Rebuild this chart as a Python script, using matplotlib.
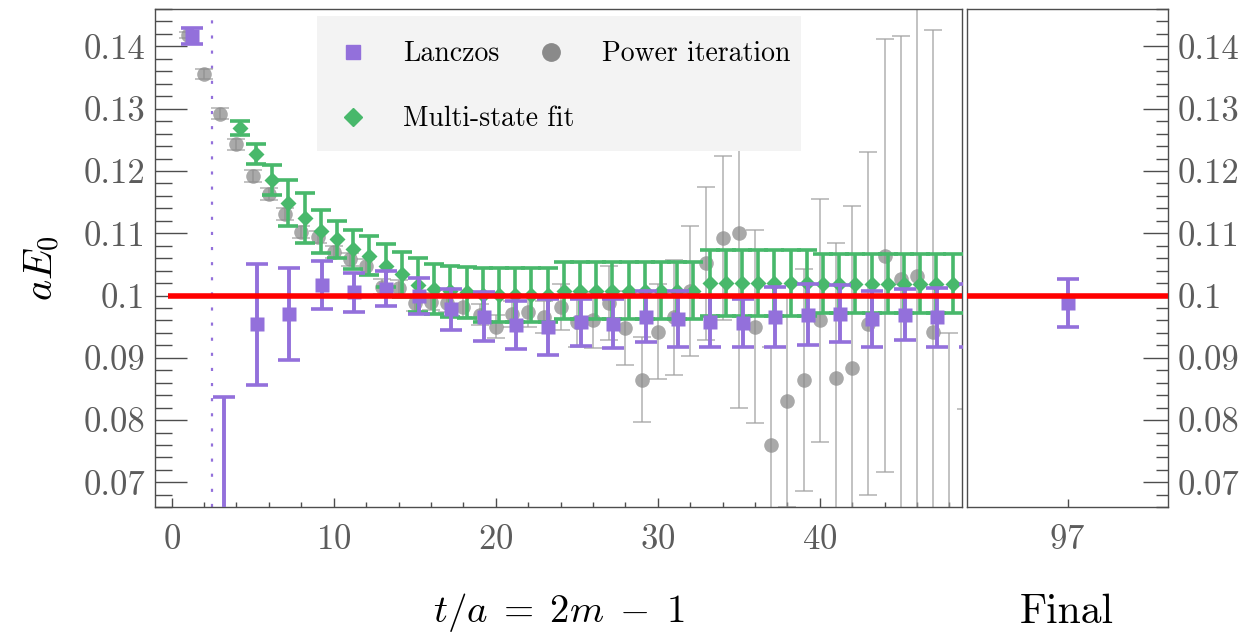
import matplotlib.pyplot as plt
from matplotlib.patches import Rectangle
from matplotlib.ticker import MultipleLocator, FuncFormatter, FixedLocator, NullLocator
import numpy as np

plt.rcParams['font.family'] = 'serif'
plt.rcParams['font.serif'] = ['cmr10']
plt.rcParams['mathtext.fontset'] = 'cm'
plt.rcParams['axes.formatter.use_mathtext'] = True

# power iteration: every time slice
t_power = list(range(1, 50))
e_power = [0.1418, 0.1356, 0.1292, 0.1243, 0.1192, 0.1163, 0.1131, 0.1102, 0.1094, 0.1070,
           0.1058, 0.1047, 0.1014, 0.1012, 0.0988, 0.0990, 0.0988, 0.0982, 0.0969, 0.0950,
           0.0970, 0.0974, 0.0966, 0.0981, 0.0957, 0.0960, 0.0988, 0.0948, 0.0865, 0.0942,
           0.0965, 0.1007, 0.1052, 0.1092, 0.1100, 0.0950, 0.0760, 0.0831, 0.0864, 0.0960,
           0.0868, 0.0883, 0.0955, 0.1064, 0.1026, 0.1032, 0.0941, 0.0520, 0.0300]
err_power = [0.0005, 0.0008, 0.0009, 0.0009, 0.0009, 0.0009, 0.0009, 0.0009, 0.0010, 0.0010,
             0.0011, 0.0012, 0.0012, 0.0013, 0.0013, 0.0014, 0.0015, 0.0016, 0.0017, 0.0018,
             0.0021, 0.0024, 0.0026, 0.0037, 0.0040, 0.0045, 0.0060, 0.0059, 0.0068, 0.0076,
             0.0092, 0.0104, 0.0123, 0.0132, 0.0280, 0.0155, 0.0158, 0.0170, 0.0178, 0.0195,
             0.0216, 0.0261, 0.0276, 0.0348, 0.0390, 0.0500, 0.0485, 0.0420, 0.0518]

# Lanczos: odd t only
t_lanczos = list(range(1, 50, 2))
e_lanczos = [0.1417, 0.0500, 0.0954, 0.0970, 0.1017, 0.1005, 0.1011, 0.0999, 0.0978, 0.0966,
             0.0953, 0.0949, 0.0957, 0.0955, 0.0966, 0.0962, 0.0957, 0.0956, 0.0965, 0.0969,
             0.0971, 0.0963, 0.0969, 0.0965, 0.0968]
err_lanczos = [0.0013, 0.0337, 0.0097, 0.0074, 0.0039, 0.0031, 0.0028, 0.0029, 0.0033, 0.0039,
               0.0039, 0.0045, 0.0038, 0.0039, 0.0041, 0.0045, 0.0040, 0.0038, 0.0048, 0.0049,
               0.0046, 0.0045, 0.0041, 0.0047, 0.0050]

# multi-state fit
t_fit = list(range(4, 49))
e_fit = [0.1269, 0.1227, 0.1186, 0.1148, 0.1124, 0.1103, 0.1090, 0.1074, 0.1064, 0.1048,
         0.1034, 0.1017, 0.1010, 0.1007, 0.1005, 0.1001, 0.1001, 0.1001, 0.1001, 0.1001,
         0.1008, 0.1008, 0.1008, 0.1008, 0.1008, 0.1008, 0.1008, 0.1008, 0.1008, 0.1020,
         0.1020, 0.1020, 0.1020, 0.1020, 0.1020, 0.1020, 0.1019, 0.1019, 0.1019, 0.1019,
         0.1019, 0.1019, 0.1019, 0.1019, 0.1019]
err_fit = [0.0012, 0.0016, 0.0024, 0.0037, 0.0040, 0.0035, 0.0030, 0.0031, 0.0031, 0.0034,
           0.0036, 0.0043, 0.0040, 0.0041, 0.0041, 0.0043, 0.0043, 0.0043, 0.0043, 0.0043,
           0.0046, 0.0046, 0.0046, 0.0046, 0.0046, 0.0046, 0.0046, 0.0046, 0.0046, 0.0053,
           0.0053, 0.0053, 0.0053, 0.0053, 0.0053, 0.0053, 0.0047, 0.0047, 0.0047, 0.0047,
           0.0047, 0.0047, 0.0047, 0.0047, 0.0047]

t_final = [97]
e_final = [0.0988]
err_final = [0.0038]

e_exact = 0.1
t_cut = 2.5

purple = '#9370db'
green = '#48b86b'
grey = '#8c8c8c'
tick_col = '#5c5c5c'

fig = plt.figure(figsize=(12.46, 6.35), dpi=100)
ax = fig.add_axes([0.1244, 0.2011, 0.6477, 0.7847])
ax2 = fig.add_axes([0.7761, 0.2011, 0.1613, 0.7847])

ax.errorbar(t_power, e_power, yerr=err_power, fmt='o', ms=10.5, color=grey, mec='none',
            alpha=0.75, ecolor='#a0a0a0', elinewidth=1.2, capsize=6.8, capthick=1.2, zorder=2)
ax.errorbar(np.array(t_fit) + 0.2, e_fit, yerr=err_fit, fmt='D', ms=8.6, color=green,
            mec='none', elinewidth=2.6, capsize=7.5, capthick=2.6, zorder=3)
ax.errorbar(np.array(t_lanczos) + 0.25, e_lanczos, yerr=err_lanczos, fmt='s', ms=10.3,
            color=purple, mec='none', elinewidth=2.8, capsize=7.8, capthick=2.6, zorder=4)
ax.hlines(e_exact, -0.2, 49, color='red', lw=4.0, zorder=6)
ax.axvline(t_cut, color=purple, ls=(0, (1.4, 5.4)), lw=1.6, zorder=1)

ax2.errorbar(t_final, e_final, yerr=err_final, fmt='s', ms=10.3, color=purple, mec='none',
             elinewidth=2.8, capsize=7.8, capthick=2.6, zorder=4)
ax2.axhline(e_exact, color='red', lw=4.0, zorder=6)

# legend box drawn by hand (entries do not sit in regular columns)
ax.add_patch(Rectangle((0.2004, 0.7156), 0.6001, 0.2710, transform=ax.transAxes,
                       facecolor='#f3f3f3', edgecolor='none', zorder=7))
ax.plot([0.2448], [0.9143], 's', ms=10, color=purple, transform=ax.transAxes, zorder=8)
ax.plot([0.4903], [0.9143], 'o', ms=12.5, color='#8a8a8a', transform=ax.transAxes, zorder=8)
ax.plot([0.2448], [0.7838], 'D', ms=9, color=green, transform=ax.transAxes, zorder=8)
ax.text(0.3073, 0.9100, 'Lanczos', transform=ax.transAxes, va='center', fontsize=20, zorder=8)
ax.text(0.5534, 0.9100, 'Power iteration', transform=ax.transAxes, va='center', fontsize=20,
        zorder=8)
ax.text(0.3073, 0.7795, 'Multi-state fit', transform=ax.transAxes, va='center', fontsize=20,
        zorder=8)

fmt = FuncFormatter(lambda v, p: f'{v:g}')
for a in (ax, ax2):
    a.set_ylim(0.066, 0.146)
    a.yaxis.set_major_locator(MultipleLocator(0.01))
    a.yaxis.set_minor_locator(MultipleLocator(0.002))
    a.yaxis.set_major_formatter(fmt)
    for s in a.spines.values():
        s.set_color('#4d4d4d')
        s.set_linewidth(1.0)
    a.tick_params(which='both', direction='in', color='#4d4d4d', width=1.0,
                  labelsize=25, labelcolor=tick_col)

ax.set_xlim(-1.03, 48.78)
ax.xaxis.set_major_locator(MultipleLocator(10))
ax.xaxis.set_minor_locator(MultipleLocator(2))
ax.tick_params(axis='y', which='major', length=23, pad=7)
ax.tick_params(axis='y', which='minor', length=12)
ax.tick_params(axis='x', which='major', length=6.5, pad=12)
ax.tick_params(axis='x', which='minor', length=3.8)

ax2.set_xlim(95.5, 98.5)
ax2.xaxis.set_major_locator(FixedLocator(t_final))
ax2.xaxis.set_minor_locator(NullLocator())
ax2.yaxis.tick_right()
ax2.tick_params(axis='y', which='major', length=18, pad=7)
ax2.tick_params(axis='y', which='minor', length=8.6)
ax2.tick_params(axis='x', which='major', length=5.8, pad=12)

fig.text(558.5 / 1246, 1 - 612 / 635, r'$t/a\;=\;2m\;-\;1$', ha='center', va='center',
         fontsize=28)
fig.text(1067 / 1246, 1 - 612 / 635, 'Final', ha='center', va='center', fontsize=30)
fig.text(42 / 1246, 1 - 268 / 635, r'$aE_0$', ha='center', va='center', rotation=90,
         fontsize=29)

fig.savefig('out.png', dpi=100)
